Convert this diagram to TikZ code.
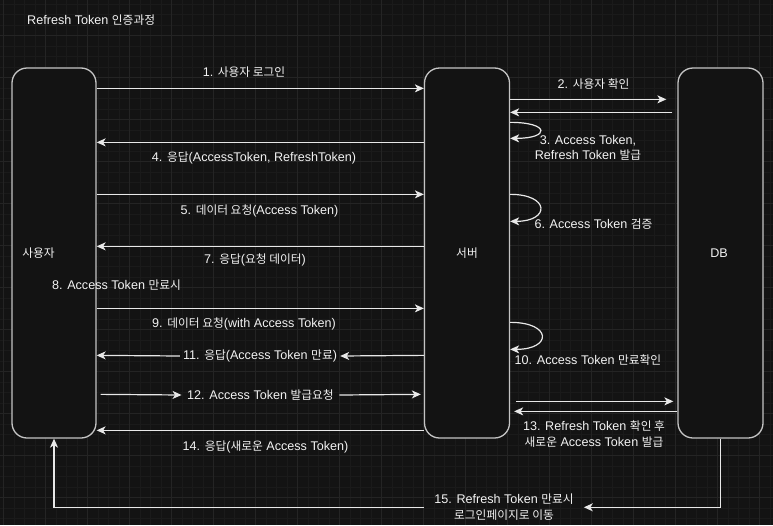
\documentclass[tikz,border=0pt]{standalone}
\usepackage{fontspec}
\setmainfont{Liberation Sans}
\newfontfamily\krfont[Scale=0.93]{Noto Sans CJK KR}
\newcommand\ko[1]{{\krfont #1}}
\usetikzlibrary{arrows.meta,calc}
\definecolor{bgc}{HTML}{131313}
\definecolor{gminorc}{HTML}{1A1A1A}
\definecolor{gmajorc}{HTML}{242424}
\definecolor{boxc}{HTML}{C4C4C4}
\definecolor{linec}{HTML}{E8E8E8}
\definecolor{txtc}{HTML}{F2F2F2}
\tikzset{
  gminor/.style={draw=gminorc, line width=0.6pt},
  gmajor/.style={draw=gmajorc, line width=0.8pt},
  box/.style={draw=boxc, fill=bgc, rounded corners=15pt, line width=1.3pt,
    minimum width=85pt, minimum height=370pt, inner sep=0pt},
  txt/.style={text=txtc, font=\fontsize{12.6}{15.5}\selectfont, inner sep=0pt, align=center},
  arr/.style={draw=linec, line width=1.2pt, -{Stealth[length=9pt,width=8pt,inset=2.5pt]}},
}
\begin{document}
\begin{tikzpicture}[x=1pt,y=-1pt]
\useasboundingbox (0,0) rectangle (773,525);
\fill[bgc] (0,0) rectangle (773,525);
% grid
\foreach \i in {0,...,73} {\draw[gminor] ({3.3+10.5*\i},0) -- ({3.3+10.5*\i},525);}
\foreach \j in {0,...,50} {\draw[gminor] (0,{3.8+10.5*\j}) -- (773,{3.8+10.5*\j});}
\foreach \i in {0,...,18} {\draw[gmajor] ({3.3+42*\i},0) -- ({3.3+42*\i},525);}
\foreach \j in {0,...,12} {\draw[gmajor] (0,{-6.7+42*\j}) -- (773,{-6.7+42*\j});}

% title
\node[txt, anchor=west] (title) at (27,20) {Refresh Token \ko{인증과정}};

% boxes
\node[box, minimum width=84pt] (user) at (54,253) {};
\node[box] (srv) at (467,253) {};
\node[box] (db) at (720.5,253) {};
\node[txt] (ulab) at (38.5,253) {\ko{사용자}};
\node[txt] (slab) at (467,253) {\ko{서버}};
\node[txt] (dlab) at (719,253) {DB};

% 1
\draw[arr] ([yshift=-21pt]user.north east) -- ([yshift=-21pt]srv.north west);
\node[txt] (t1) at (244,72) {1. \ko{사용자 로그인}};
% 2
\draw[arr] ([yshift=-32pt]srv.north east) -- ([yshift=-32pt,xshift=-11pt]db.north west);
\draw[arr] ([yshift=-45pt,xshift=-5pt]db.north west) -- ([yshift=-45pt]srv.north east);
\node[txt] (t2) at (593.5,84) {2. \ko{사용자 확인}};
% 3
\draw[arr] ([yshift=-55pt]srv.north east) .. controls +(40,0) and +(40,0) .. ([yshift=-71pt]srv.north east);
\node[txt] (t3) at (588,148) {3. Access Token,\\Refresh Token \ko{발급}};
% 4
\draw[arr] ([yshift=-75pt]srv.north west) -- ([yshift=-75pt]user.north east);
\node[txt] (t4) at (254,158) {4. \ko{응답}(AccessToken, RefreshToken)};
% 5
\draw[arr] ([yshift=-127pt]user.north east) -- ([yshift=-127pt]srv.north west);
\node[txt] (t5) at (259.5,211) {5. \ko{데이터 요청}(Access Token)};
% 6
\draw[arr] ([yshift=-127pt]srv.north east) .. controls +(40,0) and +(40,0) .. ([yshift=-154pt]srv.north east);
\node[txt] (t6) at (593.5,224) {6. Access Token \ko{검증}};
% 7
\draw[arr] ([yshift=-179pt]srv.north west) -- ([yshift=-179pt]user.north east);
\node[txt] (t7) at (255,260) {7. \ko{응답}(\ko{요청 데이터})};
% 8
\node[txt] (t8) at (116.5,285) {8. Access Token \ko{만료시}};
% 9
\draw[arr] ([yshift=-241pt]user.north east) -- ([yshift=-241pt]srv.north west);
\node[txt] (t9) at (244,324) {9. \ko{데이터 요청}(with Access Token)};
% 10
\draw[arr] ([yshift=-255pt]srv.north east) .. controls +(42,0) and +(42,0) .. ([yshift=-282pt]srv.north east);
\node[txt] (t10) at (588,360) {10. Access Token \ko{만료확인}};
% 11
\node[txt, inner xsep=3pt] (t11) at (260,356) {11. \ko{응답}(Access Token \ko{만료})};
\draw[arr] ([yshift=-288pt]srv.north west) -- (t11.east);
\draw[arr] (t11.west) -- ([yshift=-288pt]user.north east);
% 12
\node[txt, inner xsep=5.5pt] (t12) at (260.5,395) {12. Access Token \ko{발급요청}};
\draw[arr] ([yshift=-327pt,xshift=4pt]user.north east) -- (t12.west);
\draw[arr] (t12.east) -- ([yshift=-327pt,xshift=-3pt]srv.north west);
% 13
\draw[arr] ([yshift=-334pt,xshift=6pt]srv.north east) -- ([yshift=-334pt,xshift=-4pt]db.north west);
\draw[arr] ([yshift=-344pt]db.north west) -- ([yshift=-344pt,xshift=4pt]srv.north east);
\node[txt] (t13) at (594,434) {13. Refresh Token \ko{확인 후}\\\ko{새로운} Access Token \ko{발급}};
% 14
\draw[arr] ([yshift=-363pt]srv.north west) -- ([yshift=-363pt]user.north east);
\node[txt] (t14) at (265.5,447) {14. \ko{응답}(\ko{새로운} Access Token)};
% 15
\node[txt, inner xsep=10pt] (t15) at (504,507.3) {15. Refresh Token \ko{만료시}\\\ko{로그인페이지로 이동}};
\draw[arr] (db.south) |- (t15.east);
\draw[arr] (t15.west) -| (user.south);
\end{tikzpicture}
\end{document}
